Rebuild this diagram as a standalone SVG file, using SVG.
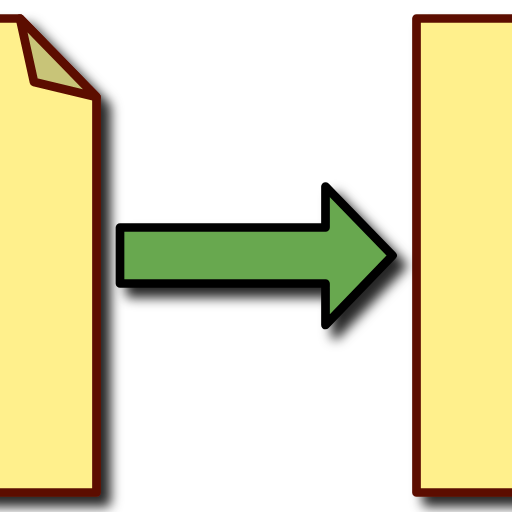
<svg xmlns="http://www.w3.org/2000/svg" width="512" height="512" viewBox="0 0 512 512">
<style>
.doc{fill:#fff08c;stroke:#5c0e00;stroke-width:8.7;stroke-linejoin:round}
.fold{fill:#c8c478;stroke:#5c0e00;stroke-width:8.7;stroke-linejoin:round}
.arrow{fill:#68a850;stroke:#000;stroke-width:8.7;stroke-linejoin:round}
</style>
<defs>
<filter id="shadow" x="-30%" y="-30%" width="170%" height="170%">
<feDropShadow dx="10" dy="10" stdDeviation="6" flood-color="#000" flood-opacity="0.85"/>
</filter>
</defs>
<rect width="512" height="512" fill="#fff"/>
<g id="source-document" filter="url(#shadow)">
<path class="doc" d="M-20 18.500H20L96.500 97V492.500H-20Z"/>
<path class="fold" d="M20 18.500L34 82L96.500 97Z"/>
</g>
<g id="target-document" filter="url(#shadow)">
<rect class="doc" x="416.500" y="18.500" width="140" height="474"/>
</g>
<g id="connectors">
<g id="arrow" filter="url(#shadow)">
<path class="arrow" d="M120 227.500H325.500V186.500L392.500 255.500L325.500 325V283.500H120Z"/>
</g>
</g>
</svg>
